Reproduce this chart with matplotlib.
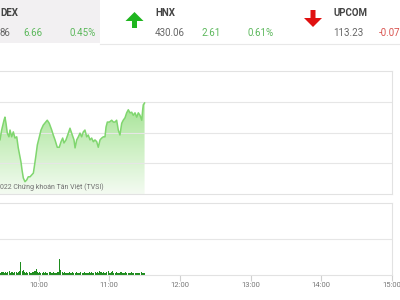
import numpy as np
import matplotlib.pyplot as plt
from matplotlib.patches import Rectangle, Polygon
from matplotlib.colors import LinearSegmentedColormap

plt.rcParams['font.family'] = ['Roboto', 'DejaVu Sans']

# intraday index, minutes after 9:00
price_minutes = [15, 21, 27.3, 28.7, 30.7, 31.5, 32.4, 33.5, 34.9, 35.8, 37.2, 38.6,
                 40.0, 41.5, 42.8, 44.3, 45.1, 46.0, 47.1, 48.5, 50.0, 51.3,
                 52.8, 54.2, 55.6, 56.4, 57.6, 59.0, 60.7, 62.1, 64.0, 66.1,
                 67.4, 69.1, 71.2, 72.5, 74.0, 75.9, 77.6, 79.1, 80.5, 81.6,
                 83.3, 85.3, 86.7, 88.1, 90.1, 91.0, 92.4, 93.8, 95.2, 96.6,
                 98.0, 99.4, 100.9, 102.2, 103.7, 105.1, 106.5, 107.9, 109.4, 110.7,
                 112.2, 113.6, 115.0, 116.4, 117.3, 118.4, 120.1, 122.1, 123.5, 124.9,
                 126.3, 127.7, 129.1, 130.6, 131.9, 133.4, 134.8, 136.2, 137.6, 139.1,
                 140.4, 141.9, 143.3, 144.7, 146.1, 147.6, 148.4, 148.9, 150.0]
price_values = [1472.4, 1473.0, 1473.8, 1475.4, 1477.0, 1477.5, 1476.5, 1474.9, 1474.3, 1475.4,
                1474.3, 1475.1, 1474.1, 1474.3, 1472.5, 1471.0, 1470.2, 1468.9, 1467.6, 1467.0,
                1467.3, 1467.8, 1467.8, 1468.1, 1468.4, 1469.4, 1471.0, 1473.0, 1474.3, 1475.4,
                1476.2, 1476.7, 1477.0, 1476.5, 1475.4, 1474.6, 1473.8, 1472.6, 1472.6, 1473.5,
                1474.1, 1473.3, 1473.8, 1474.9, 1475.7, 1474.9, 1473.8, 1472.5, 1473.8, 1474.3,
                1474.9, 1474.3, 1475.1, 1475.4, 1474.3, 1474.6, 1473.8, 1474.1, 1473.5, 1473.8,
                1473.5, 1472.6, 1473.8, 1474.1, 1474.3, 1474.3, 1475.9, 1476.7, 1476.7, 1477.0,
                1476.7, 1476.7, 1477.0, 1475.4, 1474.6, 1476.5, 1477.0, 1477.4, 1478.2, 1478.7,
                1478.2, 1478.3, 1477.8, 1478.2, 1477.5, 1478.2, 1477.8, 1477.0, 1478.7, 1479.5,
                1479.8]

# volume per minute from 9:28 to 11:30
vol_minutes = list(range(28, 151))
volumes = [0.3, 0.35, 0.4, 0.3, 0.45, 0.3, 0.35, 0.5, 0.3, 0.4,
           0.35, 0.3, 0.45, 0.4, 0.3, 0.35, 0.5, 1.8, 0.55, 0.7,
           0.4, 0.3, 0.35, 0.3, 0.45, 0.3, 0.3, 0.4, 0.35, 0.5,
           0.85, 0.4, 0.3, 0.35, 0.3, 0.3, 0.45, 0.3, 0.35, 0.3,
           0.3, 0.35, 0.4, 0.3, 0.3, 0.35, 0.3, 0.3, 0.4, 0.35,
           2.2, 0.7, 0.4, 0.3, 0.35, 0.3, 0.3, 0.3, 0.35, 0.3,
           0.3, 0.4, 0.3, 0.3, 0.35, 0.3, 0.3, 0.3, 0.45, 0.3,
           0.3, 0.35, 0.3, 0.3, 0.3, 0.4, 0.3, 0.35, 0.3, 0.3,
           0.45, 0.3, 0.35, 0.3, 0.6, 0.4, 0.3, 0.45, 0.3, 0.3,
           0.35, 0.5, 0.3, 0.3, 0.4, 0.55, 0.3, 0.3, 0.35, 0.3,
           0.3, 0.3, 0.45, 0.3, 0.3, 0.3, 0.35, 0.3, 0.3, 0.3,
           0.3, 0.35, 0.3, 0.3, 0.3, 0.3, 0.3, 0.3, 0.3, 0.35,
           0.3, 0.3, 0.3]

tick_minutes = [60, 120, 180, 240, 300, 360]
tick_labels = ["10:00", "11:00", "12:00", "13:00", "14:00", "15:00"]

index_names = ["DEX", "HNX", "UPCOM"]
index_levels = ["86", "430.06", "113.23"]
index_changes = ["6.66", "2.61", "-0.07"]
index_pcts = ["0.45%", "0.61%", ""]

GREEN_TXT = "#5cb85c"
RED_TXT = "#d9534f"
BORDER = "#e2e2e2"

fig = plt.figure(figsize=(4, 3), dpi=100)
fig.patch.set_facecolor("white")

# price panel
ax = fig.add_axes([0, 0.3533, 0.98, 0.41])
ylo, yhi = 1465, 1485
poly = ax.fill_between(price_minutes, price_values, ylo, color="none", lw=0)
grad = np.linspace(0, 1, 256).reshape(-1, 1)
cmap = LinearSegmentedColormap.from_list("g", ["#f4fbf2", "#cdf0c3", "#a3e293"])
img = ax.imshow(grad, extent=[price_minutes[0], price_minutes[-1], ylo, max(price_values)],
                aspect="auto", cmap=cmap, origin="lower", zorder=1)
img.set_clip_path(poly.get_paths()[0], transform=ax.transData)
ax.plot(price_minutes, price_values, color="#80d66f", lw=1.1, zorder=2)
ax.set_xlim(27.3, 360)
ax.set_ylim(ylo, yhi)
ax.set_yticks([1470, 1475, 1480])
ax.set_xticks([])
ax.grid(axis="y", color="#e6e6e6", lw=0.8)
ax.tick_params(length=0, labelleft=False)
ax.spines["left"].set_visible(False)
for s in ["top", "right", "bottom"]:
    ax.spines[s].set_color(BORDER)

# volume panel
ax2 = fig.add_axes([0, 0.0833, 0.98, 0.24])
ax2.bar(vol_minutes, volumes, width=0.9, color="#1e8c1e", zorder=2)
ax2.set_xlim(27.3, 360)
ax2.set_ylim(0, 10)
ax2.set_yticks([5])
ax2.grid(axis="y", color="#e6e6e6", lw=0.8)
ax2.set_xticks(tick_minutes)
ax2.set_xticklabels(tick_labels)
ax2.tick_params(axis="x", length=4, pad=1, color="#d0d0d0", labelsize=5.5, labelcolor="#777777")
ax2.tick_params(axis="y", length=0, labelleft=False)
ax2.spines["left"].set_visible(False)
for s in ["top", "right", "bottom"]:
    ax2.spines[s].set_color(BORDER)

# header overlay in pixel coordinates
ov = fig.add_axes([0, 0, 1, 1], zorder=5)
ov.set_xlim(0, 400)
ov.set_ylim(300, 0)
ov.axis("off")
ov.add_patch(Rectangle((0, 0), 100, 43, color="#f2f0f2", lw=0))
ov.plot([100, 400], [43.5, 43.5], color="#e8e8e8", lw=0.8)

name_x = [0, 155, 333]
chg_x = [23, 202, 379]
pct_x = [69.5, 248, 0]
for i in range(3):
    ov.text(name_x[i], 13.5, index_names[i], fontsize=7, fontweight="bold",
            color="#444444", va="center", ha="left")
    ov.text(name_x[i], 33, index_levels[i], fontsize=7, color="#666666", va="center", ha="left")
    col = RED_TXT if index_changes[i].startswith("-") else GREEN_TXT
    ov.text(chg_x[i], 33, index_changes[i], fontsize=7, color=col, va="center", ha="left")
    if index_pcts[i]:
        ov.text(pct_x[i], 33, index_pcts[i], fontsize=7, color=col, va="center", ha="left")

# arrows
ov.add_patch(Polygon([(134.5, 12), (143.5, 21), (137, 21), (137, 28), (132, 28), (132, 21), (125.5, 21)],
                     closed=True, color="#1fb51f", lw=0))
ov.add_patch(Polygon([(313, 27), (322, 18), (315.5, 18), (315.5, 10), (310.5, 10), (310.5, 18), (304, 18)],
                     closed=True, color="#e01010", lw=0))

ov.text(0, 187, "022 Chứng khoán Tân Việt (TVSI)", fontsize=5.0, color="#707070",
        va="center", ha="left")

fig.savefig("out.png", dpi=100, facecolor="white")
